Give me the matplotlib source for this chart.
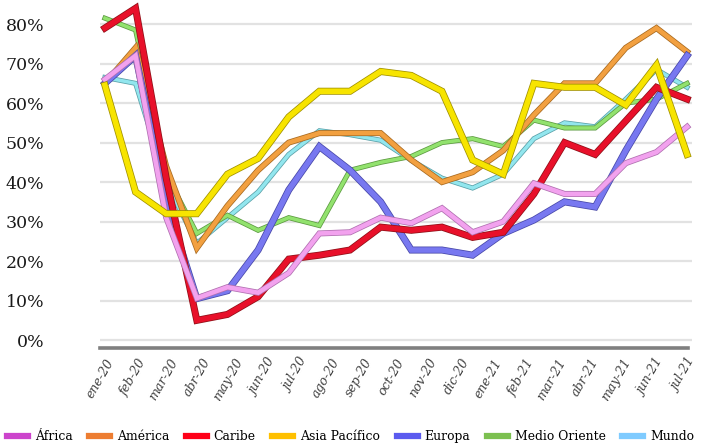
import numpy as np
import matplotlib
matplotlib.use("Agg")
import matplotlib.pyplot as plt
import matplotlib.patheffects as pe
from matplotlib.lines import Line2D

months = ["ene-20", "feb-20", "mar-20", "abr-20", "may-20", "jun-20", "jul-20",
          "ago-20", "sep-20", "oct-20", "nov-20", "dic-20", "ene-21", "feb-21",
          "mar-21", "abr-21", "may-21", "jun-21", "jul-21"]

africa = [66, 72, 31, 10.6, 13.4, 12, 17, 27, 27.3, 31, 29.6, 33.4, 27.3, 30,
          39.7, 37, 37, 44.8, 47.6, 54]
america = [65, 74, 44, 23.3, 34, 43, 50, 52.4, 52.4, 52.4, 45.6, 40, 42.5, 48,
           57, 65, 65, 74, 79, 73]
caribe = [79, 84, 41, 5, 6.5, 11, 20.5, 21.5, 22.8, 28.6, 27.8, 28.6, 26, 27.3,
          37, 50, 47, 55.5, 64, 61]
asia_pacifico = [64.5, 37.5, 32, 32, 42, 46, 56.5, 63, 63, 68, 67, 63, 45.6, 42,
                 65, 64, 64, 59.5, 69.6, 47]
europa = [65, 72, 35, 10.5, 12.5, 22.8, 38, 49, 43, 35, 22.8, 22.8, 21.5, 27,
          30.4, 35, 33.7, 48, 61, 72]
medio_oriente = [81.5, 78.5, 42, 27, 31.6, 27.8, 31, 29, 43, 45, 46.5, 50, 51, 49,
                 55.7, 53.7, 53.7, 60, 61, 65]
mundo = [66.5, 65, 40, 24.5, 31, 37.5, 47, 53, 52, 50.6, 45.5, 41, 38.5, 42,
         51, 55, 54, 61, 68.5, 64]

series_names = ["África", "América", "Caribe", "Asia Pacífico", "Europa",
                "Medio Oriente", "Mundo"]
series_values = [africa, america, caribe, asia_pacifico, europa, medio_oriente, mundo]
line_colors = ["#F2A2EE", "#F2A040", "#E8102A", "#F7E400", "#7878F0", "#92E26E", "#92E6EE"]
edge_colors = ["#B070B0", "#A86A20", "#901018", "#A09000", "#4848A8", "#5C9A40", "#5AA0A8"]
legend_colors = ["#CC44CC", "#ED7D31", "#FF0018", "#FFC000", "#5B5BEF", "#7CC050", "#7FCBFF"]
widths_px = [4.5, 4.5, 5.5, 5.5, 5.5, 3.5, 3.5]
zorders = [8, 4, 7, 9, 6, 3, 2]

fig = plt.figure(figsize=(7.01, 4.46), dpi=100)
ax = fig.add_axes([100 / 701, 1 - 348 / 446, 592 / 701, 348 / 446])

n = len(africa)
x = np.arange(n)
for name, vals, c, ec, w, z in zip(series_names, series_values, line_colors,
                                  edge_colors, widths_px, zorders):
    lw = w * 0.72
    ax.plot(x, vals, color=c, lw=lw, zorder=z, solid_joinstyle="miter",
            path_effects=[pe.Stroke(linewidth=lw + 1.1, foreground=ec), pe.Normal()])

ax.set_xlim(-0.16, n - 1 + 0.16)
ax.set_ylim(-2, 86.1)

yt = np.arange(0, 81, 10)
ax.set_yticks(yt)
ax.set_yticklabels([f"{v}%" for v in yt], family="DejaVu Serif", fontsize=12.5,
                   color="#1a1a1a")
ax.yaxis.grid(True, color="#E2E2E2", lw=1.6, zorder=0)
ax.set_axisbelow(True)
ax.tick_params(axis="y", length=0, pad=40)

xt = np.linspace(0, n - 1, len(months))
ax.set_xticks(xt)
ax.set_xticklabels(months, rotation=60, ha="right", va="top", rotation_mode="anchor",
                   family="DejaVu Serif", style="italic", fontsize=9, color="#404040")
ax.tick_params(axis="x", length=0, pad=6)

for s in ["top", "right", "left"]:
    ax.spines[s].set_visible(False)
ax.spines["bottom"].set_color("#7F7F7F")
ax.spines["bottom"].set_linewidth(2.6)
ax.spines["bottom"].set_bounds(-0.16, n - 1 + 0.03)

handles = [Line2D([0], [0], color=c, lw=4.5) for c in legend_colors]
fig.legend(handles, series_names, loc="center", bbox_to_anchor=(0.5, 9.5 / 446),
           ncol=7, frameon=False, handlelength=1.7, handletextpad=0.55,
           columnspacing=1.35, borderpad=0, borderaxespad=0,
           prop={"family": "DejaVu Serif", "size": 8.9})

fig.savefig("out.png", dpi=100)
